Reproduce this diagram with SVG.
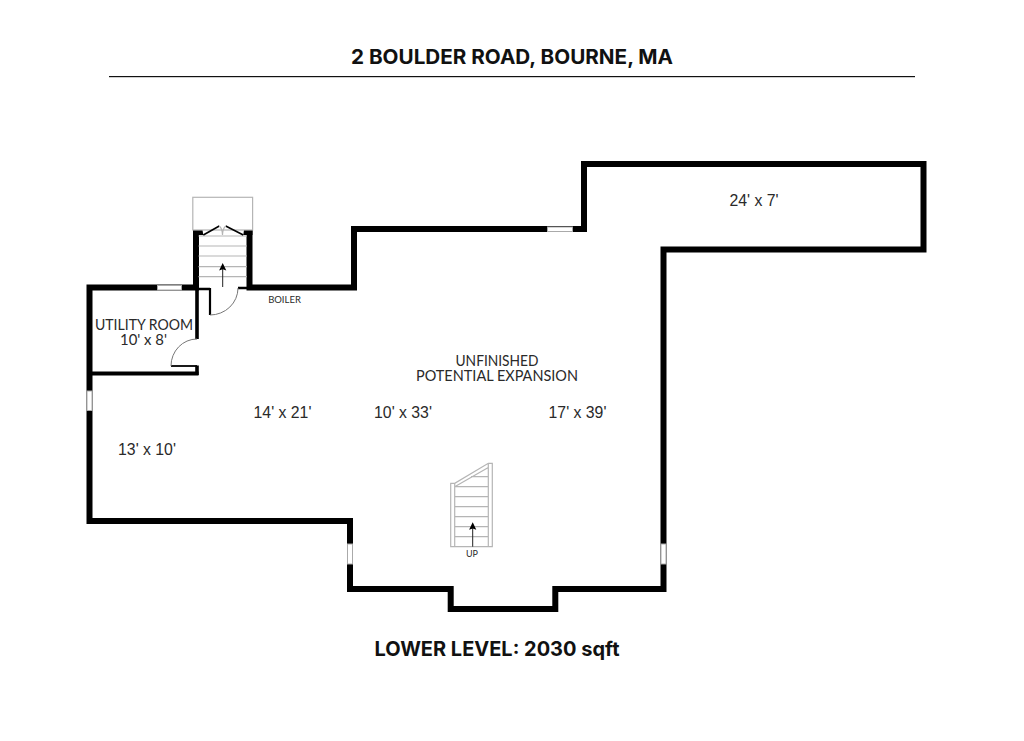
<svg xmlns="http://www.w3.org/2000/svg" width="1024" height="741" viewBox="0 0 1024 741">
<style>
text{text-anchor:middle;fill:#2a2a2a}
.t{font-family:"Inter","Liberation Sans",sans-serif;font-weight:700;fill:#111;font-size:20px}
.a{font-family:"Liberation Sans",Arial,sans-serif;font-size:15.8px}
.f{font-family:"Lato","Liberation Sans",sans-serif;font-weight:400}
.w{fill:none;stroke:#000;stroke-width:6;stroke-linejoin:miter}
.g{fill:none;stroke:#b5b5b5;stroke-width:1.2}
.k{fill:none;stroke:#222;stroke-width:1}
.win{fill:#fff;stroke:#aaa;stroke-width:1}
</style>
<defs>
<path id="ah" d="M0 0L3.6 7.5L0 6.3L-3.6 7.5Z" fill="#000"/>
</defs>
<rect width="1024" height="741" fill="#fff"/>
<g id="title">
<text class="t" x="512" y="64" textLength="322" lengthAdjust="spacingAndGlyphs">2 BOULDER ROAD, BOURNE, MA</text>
<rect x="109" y="76" width="806" height="1.2" fill="#111"/>
</g>
<g id="walls">
<path class="w" d="M89.5 373.5V521H350V589H450.7V609H555.3V589H663.5V249.5H923.5V164H584V229H354V287.5H249.5V230M196 230V287.5H89.5V373.5"/>
<path d="M89.5 373.5H198.5" fill="none" stroke="#000" stroke-width="3.8"/>
<path d="M197 287V339M197 365.5V375" fill="none" stroke="#000" stroke-width="3.6"/>
<path d="M198 289H210M238 288H250" fill="none" stroke="#000" stroke-width="2.6"/>
<path d="M210 288V315" fill="none" stroke="#000" stroke-width="2.2"/>
<path d="M171 366H197" fill="none" stroke="#000" stroke-width="1.8"/>
<path d="M193 230H202.5L203.3 235H193ZM243.3 235L244 230H252.5V235Z" fill="#000"/>
</g>
<g id="windows">
<rect class="win" x="157.5" y="285.5" width="24" height="4.5"/>
<rect class="win" x="547.5" y="227" width="25" height="4.5"/>
<rect class="win" x="87" y="391" width="5" height="19.5"/>
<rect class="win" x="347.5" y="544" width="5" height="20"/>
<rect class="win" x="661" y="544" width="5" height="20"/>
</g>
<g id="entry-stair">
<rect class="g" x="192.8" y="197.3" width="59.8" height="32.7"/>
<path class="g" d="M198.5 236H247M198.5 246H247M198.5 256H247M198.5 266.7H247M198.5 276.7H247"/>
<path d="M203.3 235L219.3 226M243.3 235L225.7 226" fill="none" stroke="#000" stroke-width="1.6"/>
<path class="g" d="M219.3 226Q222.5 229 222.5 235M225.7 226Q222.5 229 222.5 235"/>
<path class="k" d="M222.7 287V266"/>
<use href="#ah" x="222.7" y="263"/>
<path d="M210 315A28 27 0 0 0 238 288M197 339A26 27 0 0 0 171 366" fill="none" stroke="#777" stroke-width="1"/>
</g>
<g id="main-stair">
<path class="g" d="M450.7 546.7V483.3H454.7L488.3 463.3H492.3V546.7ZM454.7 546.7V483.3M488.3 546.7V463.3M454.7 486.7L488.3 467.5M454.7 486.7H488.3M471 476.7H488.3M454.7 496.7H488.3M454.7 506.7H488.3M454.7 516.7H488.3M454.7 526.7H488.3M454.7 536.7H488.3"/>
<path class="k" d="M472.7 546.7V527"/>
<use href="#ah" x="472.7" y="522.3"/>
</g>
<g id="labels">
<text class="f" x="144" y="330" font-size="16" textLength="98" lengthAdjust="spacingAndGlyphs">UTILITY ROOM</text>
<text class="f" x="143.5" y="345" font-size="15.5" textLength="47" lengthAdjust="spacingAndGlyphs">10' x 8'</text>
<text class="f" x="284.5" y="302.7" font-size="9.5">BOILER</text>
<text class="f" x="497" y="365.5" font-size="14.5" textLength="83" lengthAdjust="spacingAndGlyphs">UNFINISHED</text>
<text class="f" x="497" y="380.5" font-size="14.5" textLength="162" lengthAdjust="spacingAndGlyphs">POTENTIAL EXPANSION</text>
<text class="a" x="754" y="206">24' x 7'</text>
<text class="a" x="282.5" y="417.5">14' x 21'</text>
<text class="a" x="403" y="417.5">10' x 33'</text>
<text class="a" x="577.5" y="417.5">17' x 39'</text>
<text class="a" x="147" y="455">13' x 10'</text>
<text class="f" x="472" y="556.7" font-size="10" textLength="12" lengthAdjust="spacingAndGlyphs">UP</text>
<text class="t" x="497" y="656" textLength="245" lengthAdjust="spacingAndGlyphs">LOWER LEVEL: 2030 sqft</text>
</g>
</svg>
